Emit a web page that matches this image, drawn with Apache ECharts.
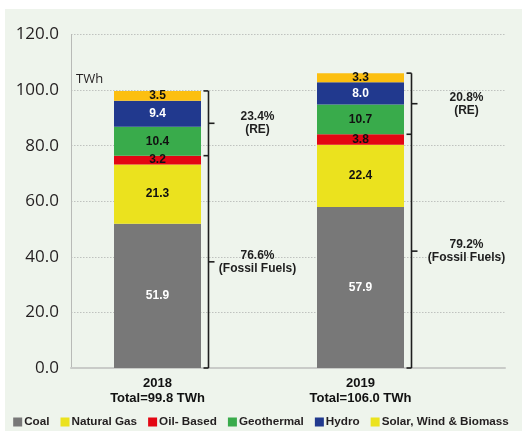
<!DOCTYPE html>
<html><head><meta charset="utf-8">
<script src="https://cdn.jsdelivr.net/npm/echarts@6/dist/echarts.min.js"></script>
<style>html,body{margin:0;padding:0;background:#fff}#c{width:522px;height:431px}</style>
</head><body><div id="c"></div>
<script>
const categories = ['2018', '2019'];
const totals = ['99.8', '106.0'];
const coal = [51.9, 57.9];
const naturalGas = [21.3, 22.4];
const oilBased = [3.2, 3.8];
const geothermal = [10.4, 10.7];
const hydro = [9.4, 8.0];
const solarWindBiomass = [3.5, 3.3];
const reShare = ['23.4%', '20.8%'];
const fossilShare = ['76.6%', '79.2%'];
const yTicks = [0, 20, 40, 60, 80, 100, 120];

const FONT = 'Liberation Sans, Arial, sans-serif';
const chart = echarts.init(document.getElementById('c'), null, {renderer: 'canvas'});

function barSeries(name, data, color, labelColor) {
  return {
    name, type: 'bar', stack: 'total', data, xAxisIndex: 1, yAxisIndex: 1,
    barWidth: 87,
    itemStyle: {color},
    label: {show: true, position: 'inside', color: labelColor, fontFamily: FONT,
      fontWeight: 'bold', fontSize: 12, formatter: p => p.value.toFixed(1)}
  };
}

const bracketData = categories.map((c, i) => {
  const fossil = coal[i] + naturalGas[i] + oilBased[i];
  const total = fossil + geothermal[i] + hydro[i] + solarWindBiomass[i];
  return [i, total, fossil, 0];
});

chart.setOption({
  animation: false,
  backgroundColor: 'transparent',
  graphic: [
    {type: 'rect', z: -100, shape: {x: 5, y: 9, width: 517, height: 422}, style: {fill: '#eef4ec'}, silent: true},
    {type: 'text', left: 76, top: 73, style: {text: 'TWh', fontSize: 13, fontFamily: 'Open Sans, sans-serif', fill: '#231f20'}}
  ],
  grid: [
    {left: 71, right: 17, top: 34.5, bottom: 63},
    {left: 56, width: 406, top: 34.5, bottom: 63}
  ],
  xAxis: [
    {gridIndex: 0, type: 'category', data: [''], axisLine: {show: true, lineStyle: {color: '#c9cbc8', width: 2}},
      axisTick: {show: false}, axisLabel: {show: false}},
    {gridIndex: 1, type: 'category', data: categories, axisLine: {show: false}, axisTick: {show: false},
      axisLabel: {margin: 8, color: '#111', fontFamily: FONT, fontWeight: 'bold', fontSize: 13, lineHeight: 15,
        formatter: (v, i) => v + '\nTotal=' + totals[i] + ' TWh'}}
  ],
  yAxis: [
    {gridIndex: 0, type: 'value', min: yTicks[0], max: yTicks[yTicks.length - 1], interval: 20,
      axisLine: {show: true, lineStyle: {color: '#b8bab7', width: 1}}, axisTick: {show: false},
      axisLabel: {margin: 12, color: '#231f20', fontSize: 17, fontFamily: 'Open Sans, sans-serif', formatter: v => v.toFixed(1)},
      splitLine: {show: true, lineStyle: {color: '#bfc2bf', type: [1.5, 1.5], width: 1}}},
    {gridIndex: 1, type: 'value', min: 0, max: 120, show: false, splitLine: {show: false}}
  ],
  legend: {
    bottom: 3, left: 'center', padding: 0, itemWidth: 9, itemHeight: 9, itemGap: 11, icon: 'rect',
    textStyle: {fontFamily: FONT, fontWeight: 'bold', fontSize: 11.7, color: '#231f20', padding: [0, 0, 0, -3]},
    data: [
      {name: 'Coal'}, {name: 'Natural Gas'}, {name: 'Oil- Based'}, {name: 'Geothermal'}, {name: 'Hydro'},
      {name: 'Solar, Wind & Biomass', itemStyle: {color: '#ebe31e'}}
    ]
  },
  series: [
    barSeries('Coal', coal, '#787878', '#fff'),
    barSeries('Natural Gas', naturalGas, '#ebe21e', '#111'),
    barSeries('Oil- Based', oilBased, '#e30613', '#111'),
    barSeries('Geothermal', geothermal, '#39ab4b', '#111'),
    barSeries('Hydro', hydro, '#21398e', '#fff'),
    barSeries('Solar, Wind & Biomass', solarWindBiomass, '#fcbf10', '#111'),
    {
      type: 'custom', xAxisIndex: 1, yAxisIndex: 1, silent: true, z: 10,
      data: bracketData,
      renderItem: (params, api) => {
        const i = api.value(0);
        const top = api.coord([i, api.value(1)]);
        const mid = api.coord([i, api.value(2)]);
        const bot = api.coord([i, api.value(3)]);
        const x = top[0] + 51;
        const tx = top[0] + 100 + i * 6;
        const reY = (top[1] + mid[1]) / 2;
        const foY = (mid[1] + bot[1]) / 2;
        const ls = {stroke: '#1e1e1e', lineWidth: 1.6};
        const line = (x1, y1, x2, y2) => ({type: 'line', shape: {x1, y1, x2, y2}, style: ls});
        const txt = (t, y) => ({type: 'text', style: {text: t, x: tx, y, align: 'center', verticalAlign: 'middle',
          fontFamily: FONT, fontWeight: 'bold', fontSize: 12, lineHeight: 13, fill: '#1e1e1e'}});
        return {type: 'group', children: [
          line(x, top[1], x, bot[1]),
          line(x - 5, top[1], x, top[1]),
          line(x - 5, mid[1], x, mid[1]),
          line(x - 5, bot[1], x, bot[1]),
          line(x, reY, x + 6, reY),
          line(x, foY, x + 6, foY),
          txt(reShare[i] + '\n(RE)', reY),
          txt(fossilShare[i] + '\n(Fossil Fuels)', foY)
        ]};
      }
    }
  ]
});
</script></body></html>
